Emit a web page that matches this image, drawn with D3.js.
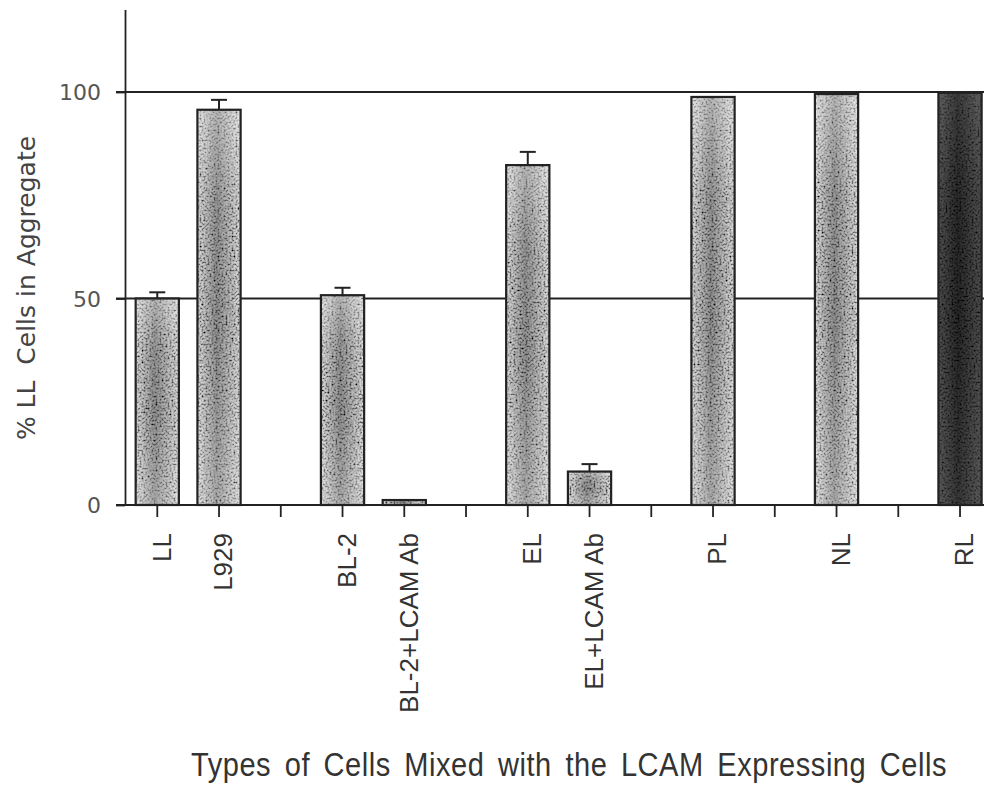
<!DOCTYPE html>
<html>
<head>
<meta charset="utf-8">
<script src="https://cdn.jsdelivr.net/npm/d3@7"></script>
<style>
  html, body { margin: 0; padding: 0; background: #ffffff; }
  svg { display: block; }
</style>
</head>
<body>
<svg id="chart" width="984" height="785"></svg>
<script>
// ---- data ----
const slots = ["LL", "L929", "gap1", "BL-2", "BL-2+LCAM Ab", "gap2", "EL", "EL+LCAM Ab", "gap3", "PL", "gap4", "NL", "gap5", "RL"];
const barCategories = ["LL", "L929", "BL-2", "BL-2+LCAM Ab", "EL", "EL+LCAM Ab", "PL", "NL", "RL"];
const barValues = [50, 95.7, 50.8, 1.2, 82.3, 8.1, 98.8, 99.5, 99.8];
const errorValues = [1.5, 2.4, 1.8, 0, 3.2, 1.8, 0, 0, 0];
const yTicks = [0, 50, 100];
const yLabel = "% LL  Cells in Aggregate";
const xTitle = "Types of Cells Mixed with the LCAM Expressing Cells";

// ---- layout ----
const W = 984, H = 785;
const svg = d3.select("#chart");

const x = d3.scaleBand().domain(slots).range([126.4, 126.4 + 14 * 61.75])
  .paddingInner(0.3).paddingOuter(0.15);
const y = d3.scaleLinear().domain([0, 120]).range([505, 9.4]);
const axisX = 125;

const defs = svg.append("defs");
// speckle filter
const f = defs.append("filter").attr("id", "speckle")
  .attr("x", 0).attr("y", 0).attr("width", "100%").attr("height", "100%");
f.append("feTurbulence").attr("type", "fractalNoise").attr("baseFrequency", 0.5)
  .attr("numOctaves", 3).attr("seed", 11).attr("result", "n");
f.append("feColorMatrix").attr("in", "n").attr("type", "matrix")
  .attr("values", "0 0 0 0 0  0 0 0 0 0  0 0 0 0 0  -2.6 0 0 0 1.55").attr("result", "dots");
f.append("feComposite").attr("in", "dots").attr("in2", "SourceGraphic").attr("operator", "in").attr("result", "dc");
const m = f.append("feMerge");
m.append("feMergeNode").attr("in", "SourceGraphic");
m.append("feMergeNode").attr("in", "dc");

function hGrad(id, edge, mid) {
  const g = defs.append("linearGradient").attr("id", id)
    .attr("x1", "0%").attr("x2", "100%").attr("y1", "0%").attr("y2", "0%");
  g.append("stop").attr("offset", "0%").attr("stop-color", edge);
  g.append("stop").attr("offset", "45%").attr("stop-color", mid);
  g.append("stop").attr("offset", "100%").attr("stop-color", edge);
}
hGrad("gLight", "#dcdcdc", "#909090");
hGrad("gDark", "#505050", "#282828");

const vg = defs.append("linearGradient").attr("id", "gV")
  .attr("x1", "0%").attr("x2", "0%").attr("y1", "0%").attr("y2", "100%");
vg.append("stop").attr("offset", "0%").attr("stop-color", "#fff").attr("stop-opacity", 0.35);
vg.append("stop").attr("offset", "25%").attr("stop-color", "#fff").attr("stop-opacity", 0.05);
vg.append("stop").attr("offset", "55%").attr("stop-color", "#fff").attr("stop-opacity", 0.0);
vg.append("stop").attr("offset", "100%").attr("stop-color", "#fff").attr("stop-opacity", 0.25);

// ---- gridlines (behind bars) ----
svg.append("g").selectAll("line").data(yTicks).join("line")
  .attr("x1", axisX - 9).attr("x2", W)
  .attr("y1", d => y(d)).attr("y2", d => y(d))
  .attr("stroke", "#222").attr("stroke-width", 1.8);

// ---- y axis ----
const yAxis = svg.append("g").attr("transform", `translate(${axisX},0)`)
  .call(d3.axisLeft(y).tickValues(yTicks).tickSize(9).tickSizeOuter(0).tickPadding(15));
yAxis.select(".domain").attr("stroke", "#222").attr("stroke-width", 1.8);
yAxis.selectAll(".tick line").attr("stroke", "#222").attr("stroke-width", 1.8);
yAxis.selectAll(".tick text")
  .attr("font-family", "DejaVu Sans, sans-serif").attr("font-size", 22)
  .attr("fill", "#555").attr("dy", "0.36em");

// ---- x axis ticks & labels ----
const xAxis = svg.append("g").attr("transform", `translate(0,${y(0)})`)
  .call(d3.axisBottom(x).tickSize(12).tickSizeOuter(0)
    .tickFormat(d => d.startsWith("gap") ? "" : d));
xAxis.select(".domain").remove();
xAxis.selectAll(".tick line").attr("stroke", "#222").attr("stroke-width", 1.8);
xAxis.selectAll(".tick text")
  .attr("font-family", "Liberation Sans, Arial, sans-serif").attr("font-size", 26)
  .attr("fill", "#333")
  .attr("text-anchor", "end")
  .attr("transform", "translate(4,28) rotate(-90)")
  .attr("x", 0).attr("y", 0).attr("dy", "0.36em");

// ---- bars ----
const bars = barCategories.map((c, i) => ({ c, v: barValues[i], e: errorValues[i] }));
const bw = x.bandwidth();
const gBars = svg.append("g");
gBars.selectAll("rect.fill").data(bars).join("rect").attr("class", "fill")
  .attr("x", d => x(d.c)).attr("width", bw)
  .attr("y", d => y(d.v)).attr("height", d => y(0) - y(d.v))
  .attr("fill", d => d.c === "RL" ? "url(#gDark)" : "url(#gLight)")
  .attr("filter", "url(#speckle)");
gBars.selectAll("rect.shade").data(bars).join("rect").attr("class", "shade")
  .attr("x", d => x(d.c)).attr("width", bw)
  .attr("y", d => y(d.v)).attr("height", d => y(0) - y(d.v))
  .attr("fill", "url(#gV)").attr("opacity", d => d.c === "RL" ? 0.3 : 1);
gBars.selectAll("rect.edge").data(bars).join("rect").attr("class", "edge")
  .attr("x", d => x(d.c)).attr("width", bw)
  .attr("y", d => y(d.v)).attr("height", d => y(0) - y(d.v))
  .attr("fill", "none").attr("stroke", "#222").attr("stroke-width", 2.2);

// ---- error bars ----
const eb = bars.filter(d => d.e > 0);
const gErr = svg.append("g").attr("stroke", "#222").attr("stroke-width", 2);
gErr.selectAll("line.v").data(eb).join("line").attr("class", "v")
  .attr("x1", d => x(d.c) + bw / 2).attr("x2", d => x(d.c) + bw / 2)
  .attr("y1", d => y(d.v)).attr("y2", d => y(d.v + d.e));
gErr.selectAll("line.c").data(eb).join("line").attr("class", "c")
  .attr("x1", d => x(d.c) + bw / 2 - 8).attr("x2", d => x(d.c) + bw / 2 + 8)
  .attr("y1", d => y(d.v + d.e)).attr("y2", d => y(d.v + d.e));

// ---- y label ----
svg.append("text")
  .attr("transform", "translate(35,288) rotate(-90)")
  .attr("text-anchor", "middle")
  .attr("font-family", "DejaVu Sans, sans-serif").attr("font-size", 25)
  .attr("fill", "#444")
  .style("white-space", "pre")
  .text(yLabel);

// ---- x title (condensed, stretched to span) ----
const tStart = 191, tEnd = 947, sx = 0.88;
const title = svg.append("text")
  .attr("transform", `translate(${tStart},776) scale(${sx},1)`)
  .attr("font-family", "Liberation Sans, Arial, sans-serif").attr("font-size", 33)
  .attr("letter-spacing", 0.6)
  .attr("fill", "#333")
  .text(xTitle);
const len = title.node().getComputedTextLength() * sx;
const nSpaces = xTitle.split(" ").length - 1;
const extra = (tEnd - tStart - len) / nSpaces / sx;
title.attr("word-spacing", extra);
</script>
</body>
</html>
